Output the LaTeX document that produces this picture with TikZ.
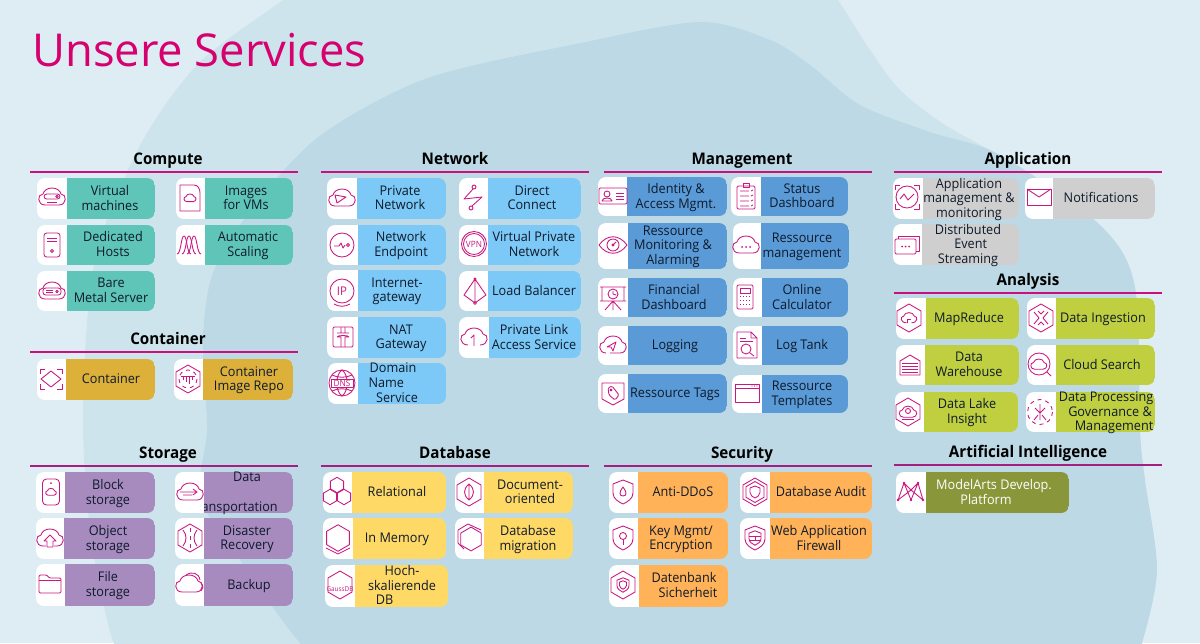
\documentclass[tikz,border=0pt]{standalone}
\usepackage{fontspec}
\setmainfont[FakeStretch=0.95]{Open Sans}
\newfontfamily\titlefont{Open Sans}
\usetikzlibrary{positioning}

\definecolor{bgbase}{HTML}{DEEDF3}
\definecolor{bgmid}{HTML}{CDE4EC}
\definecolor{bgdark}{HTML}{BCD9E5}
\definecolor{magenta}{HTML}{D6006E}
\definecolor{iconmag}{HTML}{C9187F}
\definecolor{ruletop}{HTML}{CC0F7E}
\definecolor{rulelow}{HTML}{A31F80}
\definecolor{inktext}{HTML}{0E1A2B}
\definecolor{teal}{HTML}{5FC5B8}
\definecolor{gold}{HTML}{DDB03A}
\definecolor{lilac}{HTML}{A78BBF}
\definecolor{sky}{HTML}{7CC8F6}
\definecolor{midblue}{HTML}{5A9AD6}
\definecolor{softgray}{HTML}{CFCFCF}
\definecolor{lime}{HTML}{BFCF3F}
\definecolor{olive}{HTML}{8A963A}
\definecolor{butter}{HTML}{FFD966}
\definecolor{apricot}{HTML}{FFB257}

\tikzset{
  head/.style={font=\fontsize{12}{14}\selectfont\bfseries, text=black, inner sep=0pt, anchor=base},
  svc/.style={font=\fontsize{10}{11}\selectfont, align=center, inner sep=0pt,
    execute at begin node={\vphantom{Ag}}, execute at end node={\vphantom{Ag}}},
  icon/.style={iconmag, line width=0.65pt, line join=round},
  tiny/.style={font=\fontsize{6.5}{7}\selectfont, inner sep=0pt},
}

% outlines shared by the symbols
\newcommand{\cloudpath}{(-7,8) .. controls (-15,8) and (-15,-3) .. (-9,-3) .. controls (-7,-11) and (7,-11) .. (9,-3) .. controls (15,-3) and (15,8) .. (7,8) -- cycle}
\newcommand{\hexpath}{(0,-14) -- (12,-7) -- (12,7) -- (0,14) -- (-12,7) -- (-12,-7) -- cycle}
\newcommand{\shieldpath}{(0,-12) -- (10,-8) -- (10,1) .. controls (10,7) and (4,10) .. (0,12) .. controls (-4,10) and (-10,7) .. (-10,1) -- (-10,-8) -- cycle}

\tikzset{
  % Compute
  vm/.pic={\draw \cloudpath; \draw[rounded corners=2pt] (-8,-3) rectangle (8,2); \draw (5,-.5) circle (1.2); \draw (-5,5) -- (5,5);},
  images/.pic={\draw (-10,-13) -- (4,-13) .. controls (8,-13) and (10,-9) .. (10,-5) -- (10,13) -- (-10,13) -- cycle; \draw[scale=.45] \cloudpath;},
  hosts/.pic={\draw[rounded corners=2pt] (-8,-12) rectangle (8,12); \draw (-5,-7) -- (5,-7) (-5,-4) -- (5,-4); \draw (0,6) circle (1.6);},
  scaling/.pic={\foreach \dx in {-5,0,5} \draw (\dx-7,9) .. controls (\dx-3,9) and (\dx-3,-9) .. (\dx,-9) .. controls (\dx+3,-9) and (\dx+3,9) .. (\dx+7,9);},
  baremetal/.pic={\draw \cloudpath; \draw[rounded corners=2pt] (-9,-3) rectangle (9,4); \draw (-6,-.5) -- (1,-.5) (-6,1.5) -- (1,1.5); \draw (5,.5) circle (1.2);},
  % Container
  contbox/.pic={\foreach \sx/\sy in {1/1,1/-1,-1/1,-1/-1} \draw ({\sx*11},{\sy*5}) -- ({\sx*11},{\sy*10}) -- ({\sx*6},{\sy*10}); \draw (0,-8) -- (10,0) -- (0,8) -- (-10,0) -- cycle;},
  repo/.pic={\draw \hexpath; \draw[dashed] (0,0) circle (9); \draw (-7,-3) -- (7,-3) (-5,-3) -- (-5,1) (-2,-3) -- (-2,3) (1,-3) -- (1,5) (4,-3) -- (4,1);},
  % Storage
  block/.pic={\draw[rounded corners=3pt] (-8.5,-13) rectangle (8.5,13); \fill (0,-9) circle (1); \draw[scale=.4] \cloudpath;},
  transport/.pic={\draw \cloudpath; \draw (-10,0) -- (7,0) (3,-3) -- (7,0) -- (3,3) (-7,3) -- (2,3);},
  object/.pic={\draw \cloudpath; \fill[white] (-4,7) rectangle (4,9); \draw (0,-3) -- (6,3) -- (3,3) -- (3,9) -- (-3,9) -- (-3,3) -- (-6,3) -- cycle;},
  disaster/.pic={\draw \hexpath; \draw (-7,-8) .. controls (-3,-3) and (-3,3) .. (-7,8) (7,-8) .. controls (3,-3) and (3,3) .. (7,8); \draw[dashed] (0,-10) -- (0,10);},
  file/.pic={\draw[rounded corners=1pt] (-11,-9) -- (-3,-9) -- (-1,-6) -- (11,-6) -- (11,9) -- (-11,9) -- cycle; \draw (-11,-4) -- (11,-4);},
  backup/.pic={\draw \cloudpath; \draw (-3,-9) .. controls (3,-13) and (10,-11) .. (11,-4) (12,-1) .. controls (15,2) and (14,5) .. (12,7);},
  % Network
  privnet/.pic={\draw \cloudpath; \draw (-7,-3) -- (4,-1) -- (-5,5) -- cycle;},
  direct/.pic={\draw (1,-11) circle (2); \draw (0,-9) -- (-9,1) -- (9,-1) -- (-1,8); \draw (-2,10) circle (2);},
  endpoint/.pic={\draw (0,0) circle (12); \draw (-8,1) -- (-3,1) -- (-1,-2) -- (1,3) -- (3,0); \draw (6,0) circle (1.6);},
  vpn/.pic={\draw (0,0) circle (12.5); \draw (0,0) circle (10.5); \node[tiny] (-lbl) at (0,0) {\textcolor{iconmag}{VPN}};},
  ipgw/.pic={\draw (0,0) circle (12); \draw (-8,13) .. controls (-3,16) and (3,16) .. (8,13); \node[tiny, font=\fontsize{9}{10}\selectfont] (-lbl) at (0,0) {\textcolor{iconmag}{IP}};},
  nat/.pic={\draw[rounded corners=1pt] (-10,-10) rectangle (10,10); \draw (-2,-10) -- (-2,-4) (2,-4) -- (2,-10) (-6,-4) -- (6,-4) (-6,0) .. controls (-6,-2) and (6,-2) .. (6,0) (-6,0) -- (-2,0) -- (-2,10) (6,0) -- (2,0) -- (2,10);},
  dnsname/.pic={\draw (0,0) circle (13); \draw (-10,-8) .. controls (-4,-5) and (4,-5) .. (10,-8) (-10,8) .. controls (-4,5) and (4,5) .. (10,8) (0,-13) .. controls (-7,-8) and (-7,8) .. (0,13) (0,-13) .. controls (7,-8) and (7,8) .. (0,13); \fill[white] (-11,-4) rectangle (11,4); \draw (-11,-4) rectangle (11,4); \node[tiny] (-lbl) at (0,0) {\textcolor{iconmag}{DNS}};},
  balancer/.pic={\draw (0,-12) -- (-11,4) -- (0,12) -- (11,4) -- cycle (0,-12) -- (0,12); \fill (0,-12) circle (1.6); \draw (0,12) circle (1.4);},
  privlink/.pic={\draw (-6,8) .. controls (-15,8) and (-15,-3) .. (-9,-3) .. controls (-7,-11) and (7,-11) .. (9,-3) .. controls (15,-3) and (15,8) .. (6,8); \draw (0,9) -- (0,-2) -- (-3,1);},
  % Management
  identity/.pic={\draw[rounded corners=1pt] (-14,-8) rectangle (14,8); \draw (-6,-2) circle (3); \draw (-11,5) .. controls (-11,1) and (-1,1) .. (-1,5) -- cycle; \draw (3,-3) -- (11,-3) (3,0) -- (11,0) (3,3) -- (11,3);},
  status/.pic={\draw[rounded corners=1pt] (-9,-10) rectangle (9,13); \draw (-3,-13) rectangle (3,-9); \foreach \ly in {-5,0,5,10} \draw (-6,\ly) -- (3,\ly) (5,\ly) -- (7,{\ly-1});},
  monitoring/.pic={\draw (-14,0) .. controls (-6,-11) and (6,-11) .. (14,0) .. controls (6,11) and (-6,11) .. (-14,0) -- cycle; \draw (0,0) circle (6); \fill (0,0) circle (1.6); \draw (0,0) -- (3,-3);},
  resmgmt/.pic={\draw \cloudpath; \foreach \dx in {-4,0,4} \fill (\dx,2) circle (1);},
  financial/.pic={\draw (-13,-10) -- (13,-10) (-11,-10) -- (-11,4) (11,-10) -- (11,4) (-13,4) -- (13,4) (0,4) -- (-8,13) (0,4) -- (8,13) (0,4) -- (0,13); \draw (0,-3) circle (5); \draw (0,-6) -- (0,-3) -- (3,-2);},
  calculator/.pic={\draw[rounded corners=1pt] (-8,-12) rectangle (8,12); \draw (-5,-9) rectangle (5,-4); \foreach \dy in {-1,3,7} \foreach \dx in {-5,-2,1,4} \fill (\dx,\dy) rectangle ++(1.2,1.2);},
  logging/.pic={\draw (-7,8) .. controls (-15,8) and (-15,-3) .. (-9,-3); \draw (-9,-3) .. controls (-7,-11) and (7,-11) .. (9,-3) .. controls (15,-3) and (15,8) .. (7,8) -- (-3,8); \draw (-6,2) -- (3,-3) -- (0,6) -- (-2,2) -- cycle;},
  logtank/.pic={\draw (-10,-13) -- (4,-13) -- (10,-7) -- (10,13) -- (-10,13) -- cycle (4,-13) -- (4,-7) -- (10,-7); \draw (-7,-7) -- (-1,-7) (-7,-4) -- (6,-4); \draw (-1,4) circle (5); \draw (3,8) -- (7,11);},
  tags/.pic={\draw (-11,-10) -- (11,-10) -- (11,6) -- (0,12) -- (-11,6) -- cycle; \draw[rounded corners=1pt] (-5,-5) -- (-1,-7) -- (6,2) -- (2,7) -- (-4,2) -- cycle; \draw (-2,-3) circle (1);},
  templates/.pic={\draw (-12,-9) rectangle (12,9); \draw (-12,-5) -- (12,-5); \foreach \dx in {5,7.5,10} \fill (\dx,-7) circle (.6);},
  % Application
  appmon/.pic={\draw (0,0) circle (11); \draw (-7,2) -- (-3,-3) -- (1,3) -- (7,-3); \foreach \sx/\sy in {1/1,1/-1,-1/1,-1/-1} \draw ({\sx*12},{\sy*7}) -- ({\sx*12},{\sy*12}) -- ({\sx*7},{\sy*12});},
  notify/.pic={\draw (-12,-8) rectangle (12,8); \draw (-12,-8) -- (0,0) -- (12,-8);},
  eventstream/.pic={\draw[rounded corners=1pt] (-12,-6) rectangle (9,9); \draw (-9,-6) -- (-9,-9) -- (12,-9) -- (12,6) -- (9,6); \foreach \dx in {-5,-1.5,2} \fill (\dx,1.5) circle (1);},
  % Analysis
  mapreduce/.pic={\draw \hexpath; \draw[scale=.6] (-4,8) .. controls (-15,8) and (-15,-3) .. (-9,-3) .. controls (-7,-11) and (7,-11) .. (9,-3) .. controls (15,-3) and (15,8) .. (4,8); \draw (-2,5) -- (-2,1) -- (2,1);},
  ingestion/.pic={\draw \hexpath; \draw (-7,-6) -- (-2,0) -- (-7,6) (7,-6) -- (2,0) -- (7,6) (-3,-7) -- (0,-4) -- (3,-7) (-3,7) -- (0,4) -- (3,7);},
  warehouse/.pic={\draw (-10,-4) -- (0,-10) -- (10,-4) -- (10,10) -- (-10,10) -- cycle; \foreach \ly in {-2,1,4,7} \draw (-8,\ly) -- (8,\ly);},
  cloudsearch/.pic={\draw (-1,-1) circle (11); \draw (7,7) -- (11,11); \draw[scale=.6,shift={(-2,-1)}] \cloudpath;},
  datalake/.pic={\draw \hexpath; \draw[scale=.65] \cloudpath; \draw (0,-1) circle (2.5); \draw (-6,7) -- (6,7);},
  governance/.pic={\draw[dashed] (0,0) circle (12.5); \draw (-5,-4) -- (0,1) -- (5,-4) (0,-8) -- (0,8) (-6,8) -- (-2,3) (6,8) -- (2,3);},
  % Artificial Intelligence
  modelarts/.pic={\draw (-13,8) -- (-7,-9) -- (0,8) -- (7,-9) -- (12,8) (-13,8) -- (0,-2) -- (12,8) (-7,-9) -- (0,-2) -- (7,-9); \foreach \px/\py in {-13/8,-7/-9,0/8,7/-9,12/8,0/-2} \fill (\px,\py) circle (1.3);},
  % Database
  relational/.pic={\foreach \dx/\dy in {0/-7,-7/5,7/5} \draw[shift={(\dx,\dy)},scale=.55] \hexpath;},
  docdb/.pic={\draw \hexpath; \draw (0,-8) .. controls (6,-3) and (6,3) .. (0,8) .. controls (-6,3) and (-6,-3) .. (0,-8) -- cycle (0,-8) -- (0,8);},
  memory/.pic={\draw[scale=.95] \hexpath; \draw (-12,10) -- (0,16) -- (12,10);},
  migration/.pic={\draw[shift={(1,1)},scale=.85] \hexpath; \draw (-12,-8) -- (-2,-14) -- (11,-8) (-12,-8) -- (-12,5) -- (-6,11);},
  gaussdb/.pic={\draw \hexpath; \node[tiny, font=\fontsize{5}{6}\selectfont] (-lbl) at (0,4) {\textcolor{iconmag}{GaussDB}};},
  % Security
  antiddos/.pic={\draw \shieldpath; \draw (0,-5) .. controls (4,0) and (4,4) .. (0,4) .. controls (-4,4) and (-4,0) .. (0,-5) -- cycle;},
  audit/.pic={\draw \hexpath; \draw[scale=.75] \hexpath; \draw[scale=.5] \shieldpath;},
  keymgmt/.pic={\draw \shieldpath; \draw (0,-2) circle (3.5); \draw (0,1.5) -- (0,7);},
  wafirewall/.pic={\draw \shieldpath; \draw[scale=.6] \shieldpath; \draw (-6,-2) -- (6,-2) (-5,2) -- (5,2) (0,-2) -- (0,2);},
  dbsecure/.pic={\draw \hexpath; \draw[scale=.6] \shieldpath; \draw[scale=.35] \shieldpath;},
}

% one group of tiles: fill colour, then one entry per tile
\newcommand{\svcgroup}[3][inktext]{
  \foreach \xa/\xb/\xc/\ya/\yb/\tx/\nm/\txt/\ix/\iy in {#3} {
    \begin{scope}
      \clip[rounded corners=6pt] (\xa,\ya) rectangle (\xc,\yb);
      \fill[#2] (\xb,\ya) rectangle (\xc,\yb);
    \end{scope}
    \node[svc, text=#1] (\nm) at ({\tx},{(\ya+\yb)/2+0.8}) {\txt};
    \begin{scope}
      \clip[rounded corners=6pt] (\xa,\ya) rectangle (\xc,\yb);
      \fill[white] (\xa,\ya) rectangle (\xb,\yb);
    \end{scope}
    \pic[icon] (\nm-ico) at (\ix,\iy) {\nm};
  }
}

\begin{document}
\begin{tikzpicture}[x=0.75pt, y=-0.75pt]
  \useasboundingbox (0,0) rectangle (1200,643);
  \clip (0,0) rectangle (1200,643);

  % backdrop
  \fill[bgbase] (0,0) rectangle (1200,643);
  \fill[bgmid] plot[smooth] coordinates {(300,-15) (283,0) (200,62) (143,140) (100,240) (87,323) (83,430) (90,530) (107,620) (120,660)}
    -- (1000,660) -- plot[smooth] coordinates {(1000,155) (945,125) (900,90) (870,50) (838,0) (825,-15)} -- cycle;
  \fill[bgdark] plot[smooth] coordinates {(330,660) (300,643) (240,560) (200,497) (207,430) (203,340) (213,273) (253,207) (321,135) (428,78) (581,43) (700,22) (770,40) (810,65) (860,105) (930,132) (1000,155) (1100,225) (1135,287) (1140,430) (1145,480) (1157,570) (1142,643) (1130,665)} -- cycle;

  \node[anchor=base west, inner sep=0pt, text=magenta, font=\fontsize{34}{40}\selectfont\titlefont] (title) at (32,66) {Unsere Services};

  % section headings with their rules
  \foreach \hx/\hy/\ra/\rb/\nm/\txt/\rc in {168/158/30/298/hcompute/Compute/ruletop,
      168/338/30/298/hcontainer/Container/ruletop,
      455/158/321/589/hnetwork/Network/ruletop,
      742/158/604/872/hmanagement/Management/ruletop,
      1028/158/894/1162/happlication/Application/ruletop,
      1028/279/894/1162/hanalysis/Analysis/ruletop,
      168/452/30/298/hstorage/Storage/rulelow,
      455/452/321/589/hdatabase/Database/rulelow,
      742/452/604/872/hsecurity/Security/rulelow,
      1028/451/894/1162/hai/Artificial Intelligence/rulelow} {
    \node[head] (\nm) at (\hx,\hy+6) {\txt};
    \draw[\rc, line width=1.5pt] (\ra,\hy+14) -- (\rb,\hy+14);
  }

  \svcgroup{teal}{37/67/155/178/219/110/vm/{Virtual\\machines}/52/197,
    176/205/293/178/219/246/images/{Images\\for VMs}/190/198,
    37/67/155/225/265/113/hosts/{Dedicated\\Hosts}/52/245,
    176/205/293/225/265/248/scaling/{Automatic\\Scaling}/189/245,
    37/67/155/271/311/111/baremetal/{Bare\\Metal Server}/52/291}
  \svcgroup{gold}{37/66/155/359/400/111/contbox/{Container}/51/379,
    174/203/293/359/400/249/repo/{Container\\Image Repo}/188/379}
  \svcgroup{lilac}{36/65/155/472/513/108/block/{Block\\storage}/51/492,
    175/204/293/472/513/247/transport/{Data\\\mbox{}\\transportation\hspace*{18pt}}/190/492,
    36/64/155/518/559/108/object/{Object\\storage}/50/538,
    175/204/293/518/559/247/disaster/{Disaster\\Recovery}/190/538,
    36/65/155/564/606/108/file/{File\\storage}/50/584,
    175/204/293/564/606/249/backup/{Backup}/189/584}
  \svcgroup{sky}{327/357/446/178/219/400/privnet/{Private\\Network}/342/198,
    459/488/581/178/219/532/direct/{Direct\\Connect}/473/198,
    327/358/446/225/265/401/endpoint/{Network\\Endpoint}/342/245,
    459/488/581/225/265/534/vpn/{Virtual Private\\Network}/474/244,
    327/358/446/270/311/397/ipgw/{Internet-\\gateway}/342/291,
    459/488/581/271/311/534/balancer/{Load Balancer}/475/291,
    327/358/446/317/358/401/nat/{NAT\\Gateway}/343/337,
    459/489/581/317/358/534/privlink/{Private Link\\Access Service}/474/337,
    328/358/446/363/404/397/dnsname/{Domain\hspace*{6pt}\\\hspace*{-16pt}Name\\Service}/342/383}
  \svcgroup{midblue}{598/627/727/177/216/676/identity/{Identity \&\\Access Mgmt.}/613/196,
    731/761/848/177/216/802/status/{Status\\Dashboard}/746/196,
    598/628/727/223/269/673/monitoring/{Ressource\\Monitoring \&\\Alarming}/613/245,
    733/761/849/223/269/802/resmgmt/{Ressource\\management}/746/245,
    598/628/727/278/317/674/financial/{Financial\\Dashboard}/613/297,
    733/762/848/278/317/802/calculator/{Online\\Calculator}/745/297,
    598/628/727/326/365/675/logging/{Logging}/613/345,
    733/762/848/326/365/802/logtank/{Log Tank}/747/345,
    598/628/727/374/413/675/tags/{Ressource Tags}/613/393,
    732/762/848/375/413/802/templates/{Ressource\\Templates}/747/393}
  \svcgroup{softgray}{893/923/1019/178/219/969/appmon/{Application\\management \&\\monitoring}/907/197,
    1025/1053/1155/178/219/1101/notify/{Notifications}/1039/197,
    893/922/1019/224/265/968/eventstream/{Distributed\\\hspace*{4pt}Event\\Streaming}/907/245}
  \svcgroup{lime}{896/926/1019/298/339/969/mapreduce/{MapReduce}/909/318,
    1027/1056/1155/298/339/1103/ingestion/{Data Ingestion}/1041/318,
    896/925/1019/345/385/969/warehouse/{Data\\Warehouse}/910/365,
    1027/1056/1155/345/385/1102/cloudsearch/{Cloud Search}/1040/365,
    895/924/1018/392/432/967/datalake/{Data Lake\\Insight}/908/412,
    1026/1056/1155/392/432/1106/governance/{Data Processing\\\hspace*{6pt}Governance \&\\\hspace*{12pt}Management}/1040/412}
  \svcgroup[white]{olive}{896/926/1069/472/513/994/modelarts/{ModelArts Develop.\\\hspace*{-12pt}Platform}/911/492}
  \svcgroup{butter}{323/352/446/472/513/397/relational/{Relational}/337/492,
    455/484/573/472/513/530/docdb/{Document-\\oriented}/469/492,
    323/353/446/518/559/397/memory/{In Memory}/338/538,
    455/484/573/518/559/528/migration/{Database\\migration}/470/538,
    325/355/448/565/607/402/gaussdb/{Hoch-\\skalierende\\\hspace*{-26pt}DB}/340/585}
  \svcgroup{apricot}{609/638/728/472/513/683/antiddos/{Anti-DDoS}/623/492,
    740/770/872/472/513/821/audit/{Database Audit}/755/492,
    609/638/728/518/559/681/keymgmt/{Key Mgmt/\\Encryption}/623/538,
    740/770/872/518/559/819/wafirewall/{Web Application\\Firewall}/755/538,
    609/639/728/565/607/684/dbsecure/{Datenbank\\\hspace*{6pt}Sicherheit}/623/585}
\end{tikzpicture}
\end{document}
